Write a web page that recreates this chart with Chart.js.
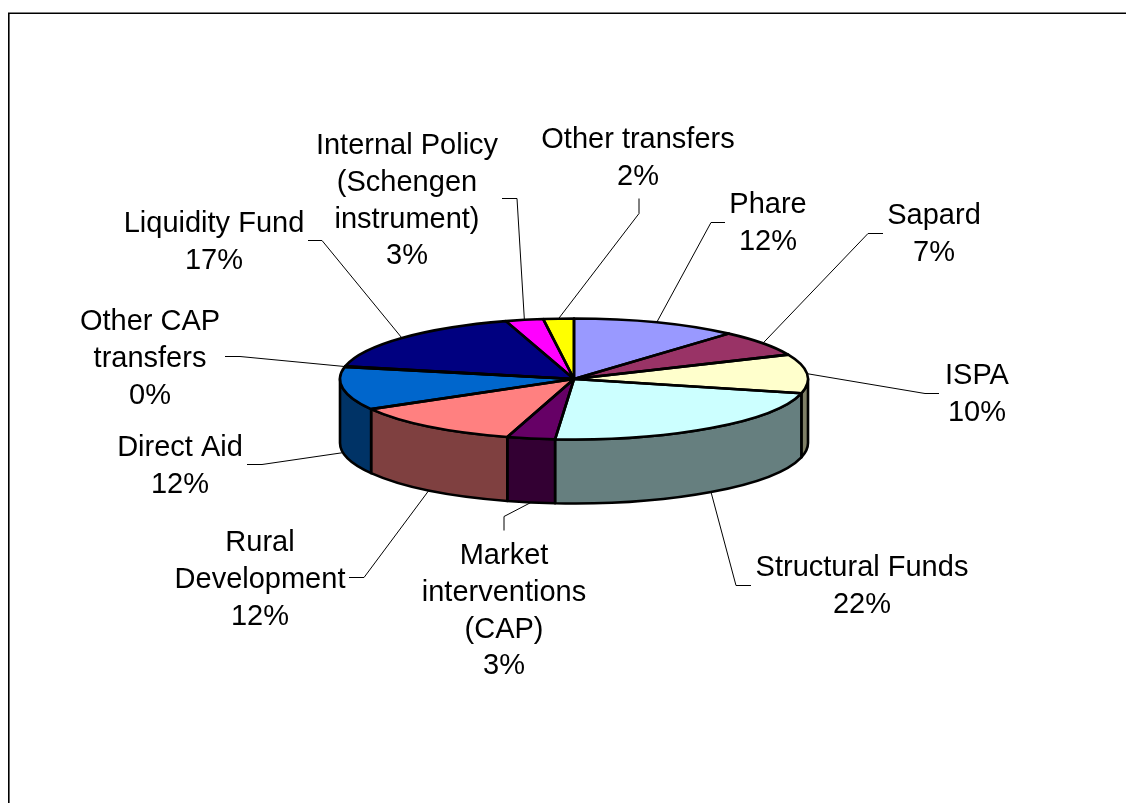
<!DOCTYPE html>
<html>
<head>
<meta charset="utf-8">
<title>Pie</title>
<script src="https://cdn.jsdelivr.net/npm/chart.js@4/dist/chart.umd.min.js"></script>
<style>
    html, body { margin: 0; padding: 0; background: #ffffff; overflow: hidden; }
    canvas { display: block; }
</style>
</head>
<body>
<canvas id="grafico" width="1126" height="803"></canvas>
<script>
const categorias = ["Phare", "Sapard", "ISPA", "Structural Funds", "Market\ninterventions\n(CAP)", "Rural\nDevelopment", "Direct Aid", "Other CAP\ntransfers", "Liquidity Fund", "Internal Policy\n(Schengen\ninstrument)", "Other transfers"];
const valores = [11.5, 6.9, 10.4, 22.49, 3.31, 12.1, 11.5, 0.2, 16.9, 2.6, 2.1];
const cores = ["#9999FF", "#993366", "#FFFFCC", "#CCFFFF", "#660066", "#FF8080", "#0066CC", "#CCCCFF", "#000080", "#FF00FF", "#FFFF00"];

// posicao dos rotulos: centro do texto, centro da primeira linha e cotovelo da linha guia
const rotuloX = [768, 934, 977, 862, 504, 260, 180, 150, 214, 407, 638];
const rotuloY = [205, 216, 376, 568, 556, 543, 448, 322, 224, 146, 140];
const guias = [
    [[725, 222], [711, 222]],
    [[883, 233], [868, 233]],
    [[939, 393], [925, 393]],
    [[751, 585], [736, 585]],
    [[504, 530], [504, 516]],
    [[349, 577], [364, 577]],
    [[247, 464], [262, 464]],
    [[225, 356], [240, 356]],
    [[308, 240], [322, 240]],
    [[502, 198], [517, 198]],
    [[639, 198], [639, 213]]
];

const achatamento = 0.2585;
const profundidade = 64;
const alturaLinha = 36.8;
const total = valores.reduce((a, b) => a + b, 0);

function escurecer(hex) {
    let r = parseInt(hex.substr(1, 2), 16) >> 1;
    let g = parseInt(hex.substr(3, 2), 16) >> 1;
    let b = parseInt(hex.substr(5, 2), 16) >> 1;
    return `rgb(${r},${g},${b})`;
}

const pizza3d = {
    id: 'pizza3d',
    beforeDatasetsDraw(chart) {
        const ctx = chart.ctx;
        const arcos = chart.getDatasetMeta(0).data;

        // moldura
        ctx.save();
        ctx.strokeStyle = "#000000";
        ctx.lineWidth = 1.6;
        ctx.beginPath();
        ctx.moveTo(8.8, 810);
        ctx.lineTo(8.8, 13.2);
        ctx.lineTo(1130, 13.2);
        ctx.stroke();

        // parede lateral, so a metade da frente aparece
        arcos.forEach((arco, i) => {
            let ini = Math.max(arco.startAngle, 0);
            let fim = Math.min(arco.endAngle, Math.PI);
            if (fim <= ini) return;
            let r = arco.outerRadius;
            ctx.beginPath();
            ctx.ellipse(arco.x, arco.y, r, r * achatamento, 0, ini, fim);
            ctx.ellipse(arco.x, arco.y + profundidade, r, r * achatamento, 0, fim, ini, true);
            ctx.closePath();
            ctx.fillStyle = escurecer(cores[i]);
            ctx.fill();
            ctx.lineWidth = 2.6;
            ctx.lineJoin = "round";
            ctx.stroke();
        });
        ctx.restore();

        // achata o topo que o Chart.js desenha
        let a = arcos[0];
        ctx.save();
        ctx.translate(0, a.y);
        ctx.scale(1, achatamento);
        ctx.translate(0, -a.y);
    },
    afterDatasetsDraw(chart) {
        const ctx = chart.ctx;
        const arcos = chart.getDatasetMeta(0).data;
        ctx.restore();

        ctx.save();
        ctx.strokeStyle = "#000000";
        ctx.lineJoin = "round";
        arcos.forEach((arco) => {
            let r = arco.outerRadius;
            ctx.beginPath();
            ctx.moveTo(arco.x, arco.y);
            ctx.ellipse(arco.x, arco.y, r, r * achatamento, 0, arco.startAngle, arco.endAngle);
            ctx.closePath();
            ctx.lineWidth = 2.6;
            ctx.stroke();
        });

        // linhas guia e rotulos
        ctx.fillStyle = "#000000";
        ctx.font = "29px 'Liberation Sans'";
        ctx.textAlign = "center";
        ctx.textBaseline = "middle";
        arcos.forEach((arco, i) => {
            let meio = (arco.startAngle + arco.endAngle) / 2;
            let r = arco.outerRadius;
            let px = arco.x + r * Math.cos(meio);
            let py = arco.y + r * achatamento * Math.sin(meio);
            if (Math.sin(meio) > 0) py += profundidade;

            ctx.beginPath();
            ctx.moveTo(guias[i][0][0], guias[i][0][1] + 0.5);
            ctx.lineTo(guias[i][1][0], guias[i][1][1] + 0.5);
            ctx.lineTo(px, py);
            ctx.lineWidth = 1;
            ctx.strokeStyle = "#000000";
            ctx.stroke();

            let linhas = categorias[i].split("\n");
            linhas.push(Math.round(valores[i] / total * 100) + "%");
            linhas.forEach((linha, n) => {
                ctx.fillText(linha, rotuloX[i], rotuloY[i] + n * alturaLinha);
            });
        });
        ctx.restore();
    }
};

new Chart(document.getElementById("grafico"), {
    type: 'pie',
    data: {
        labels: categorias,
        datasets: [{
            data: valores,
            backgroundColor: cores,
            borderWidth: 0,
            hoverBorderWidth: 0,
            clip: false
        }]
    },
    options: {
        responsive: false,
        animation: false,
        events: [],
        layout: { padding: { left: 340, right: 318, top: 145, bottom: 190 } },
        plugins: {
            legend: { display: false },
            tooltip: { enabled: false },
            title: { display: false }
        }
    },
    plugins: [pizza3d]
});
</script>
</body>
</html>
